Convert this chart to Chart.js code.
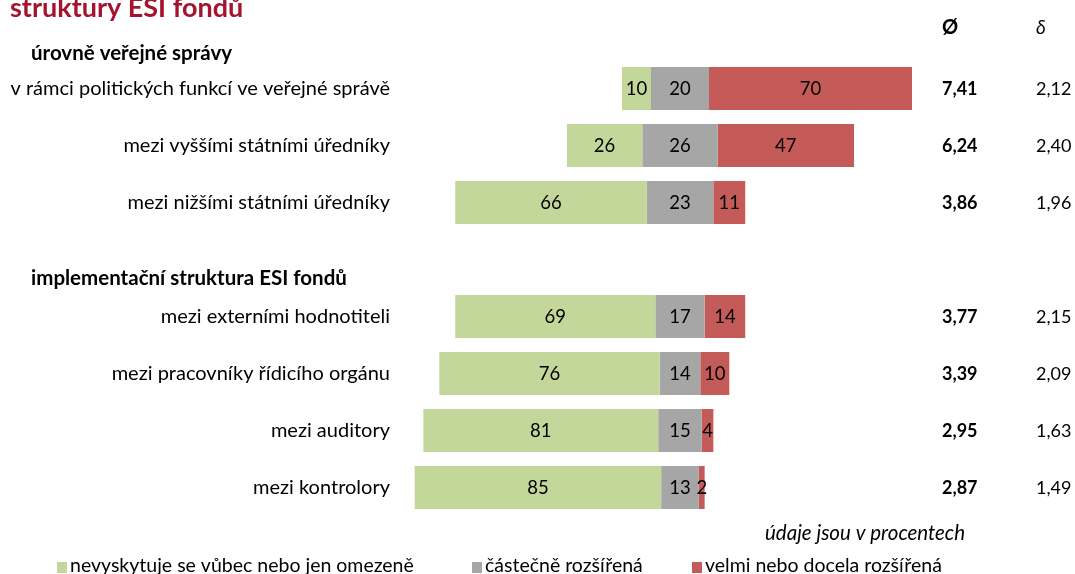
<!DOCTYPE html>
<html>

<head>
    <meta charset="utf-8">
    <title>struktury ESI fondů</title>
    <script src="https://cdn.jsdelivr.net/npm/chart.js"></script>
    <style>
        body { margin: 0; background: #fff; }
    </style>
</head>

<body>
    <canvas id="myChart" width="1075" height="574"></canvas>

    <script>
        // rows of the chart, the empty one leaves room for the second heading
        var labels = ['v rámci politických funkcí ve veřejné správě', 'mezi vyššími státními úředníky',
            'mezi nižšími státními úředníky', '', 'mezi externími hodnotiteli',
            'mezi pracovníky řídicího orgánu', 'mezi auditory', 'mezi kontrolory'];
        var nevyskytuje = [10, 26, 66, null, 69, 76, 81, 85];
        var castecne = [20, 26, 23, null, 17, 14, 15, 13];
        var rozsirena = [70, 47, 11, null, 14, 10, 4, 2];
        var prumer = ['7,41', '6,24', '3,86', null, '3,77', '3,39', '2,95', '2,87'];
        var odchylka = ['2,12', '2,40', '1,96', null, '2,15', '2,09', '1,63', '1,49'];
        var skupiny = ['úrovně veřejné správy', 'implementační struktura ESI fondů'];
        var legendLabels = ['nevyskytuje se vůbec nebo jen omezeně', 'částečně rozšířená', 'velmi nebo docela rozšířená'];

        var colors = ['#C4D79B', '#A6A6A6', '#C55B58'];
        var font = 'Lato, "Open Sans", sans-serif';

        // diverging bars: grey part is centred on zero
        var greenBars = nevyskytuje.map(function (v, i) {
            return v === null ? null : [-(castecne[i] / 2 + v), -castecne[i] / 2];
        });
        var greyBars = castecne.map(function (v) {
            return v === null ? null : [-v / 2, v / 2];
        });
        var redBars = rozsirena.map(function (v, i) {
            return v === null ? null : [castecne[i] / 2, castecne[i] / 2 + v];
        });
        var rawValues = [nevyskytuje, castecne, rozsirena];

        var textPlugin = {
            id: 'texts',
            afterDatasetsDraw: function (chart) {
                var c = chart.ctx;
                c.save();
                c.fillStyle = '#000';
                c.font = '18.5px ' + font;
                c.textAlign = 'center';
                c.textBaseline = 'middle';
                chart.data.datasets.forEach(function (ds, d) {
                    chart.getDatasetMeta(d).data.forEach(function (bar, i) {
                        var v = rawValues[d][i];
                        if (v === null) return;
                        var left = Math.min(bar.x, bar.base), right = Math.max(bar.x, bar.base);
                        c.fillText(String(v), (left + right) / 2, bar.y + 1);
                    });
                });
                c.restore();
            },
            afterDraw: function (chart) {
                var c = chart.ctx;
                var y = chart.scales.y;
                c.save();
                c.textBaseline = 'alphabetic';
                c.textAlign = 'left';

                // title (cut at the top edge)
                c.fillStyle = '#A3142F';
                c.font = 'bold 27px ' + font;
                c.fillText('struktury ESI fondů', 10, 17);

                // group headings
                c.fillStyle = '#000';
                c.font = 'bold 20.5px ' + font;
                c.fillText(skupiny[0], 31, y.getPixelForValue(0) - 29);
                c.fillText(skupiny[1], 31, y.getPixelForValue(3) + 25);

                // column headers
                c.font = 'bold 20px ' + font;
                c.fillText('Ø', 942, 34);
                c.font = 'italic 19px ' + font;
                c.fillText('δ', 1036, 34);

                // mean and deviation columns
                c.textBaseline = 'middle';
                labels.forEach(function (l, i) {
                    if (prumer[i] === null) return;
                    var py = y.getPixelForValue(i) + 1;
                    c.font = 'bold 18px ' + font;
                    c.fillText(prumer[i], 942, py);
                    c.font = '18px ' + font;
                    c.fillText(odchylka[i], 1036, py);
                });

                // note
                c.font = 'italic 20.5px ' + font;
                c.fillText('údaje jsou v procentech', 765, 533);

                // legend
                var lx = [57, 472, 692];
                c.font = '19.5px ' + font;
                c.textBaseline = 'alphabetic';
                legendLabels.forEach(function (t, i) {
                    c.fillStyle = colors[i];
                    c.fillRect(lx[i], 562, 10, 11);
                    c.fillStyle = '#000';
                    c.fillText(t, lx[i] + 13, 572);
                });
                c.restore();
            }
        };

        var ctx = document.getElementById('myChart').getContext('2d');
        var myChart = new Chart(ctx, {
            type: 'bar',
            data: {
                labels: labels,
                datasets: [
                    { label: legendLabels[0], data: greenBars, backgroundColor: colors[0] },
                    { label: legendLabels[1], data: greyBars, backgroundColor: colors[1] },
                    { label: legendLabels[2], data: redBars, backgroundColor: colors[2] }
                ]
            },
            options: {
                indexAxis: 'y',
                responsive: false,
                animation: false,
                devicePixelRatio: 1,
                layout: { padding: { left: 0, right: 105, top: 60, bottom: 58 } },
                datasets: {
                    bar: { grouped: false, categoryPercentage: 1, barPercentage: 0.755, borderWidth: 0, borderSkipped: false }
                },
                scales: {
                    x: { display: false, min: -100, max: 100 },
                    y: {
                        grid: { display: false, drawTicks: false },
                        border: { display: false },
                        ticks: { color: '#000', padding: 0, font: { family: font, size: 20 } },
                        afterFit: function (scale) { scale.width = 390; }
                    }
                },
                plugins: {
                    legend: { display: false },
                    tooltip: { enabled: false }
                }
            },
            plugins: [textPlugin]
        });
    </script>

</body>

</html>
